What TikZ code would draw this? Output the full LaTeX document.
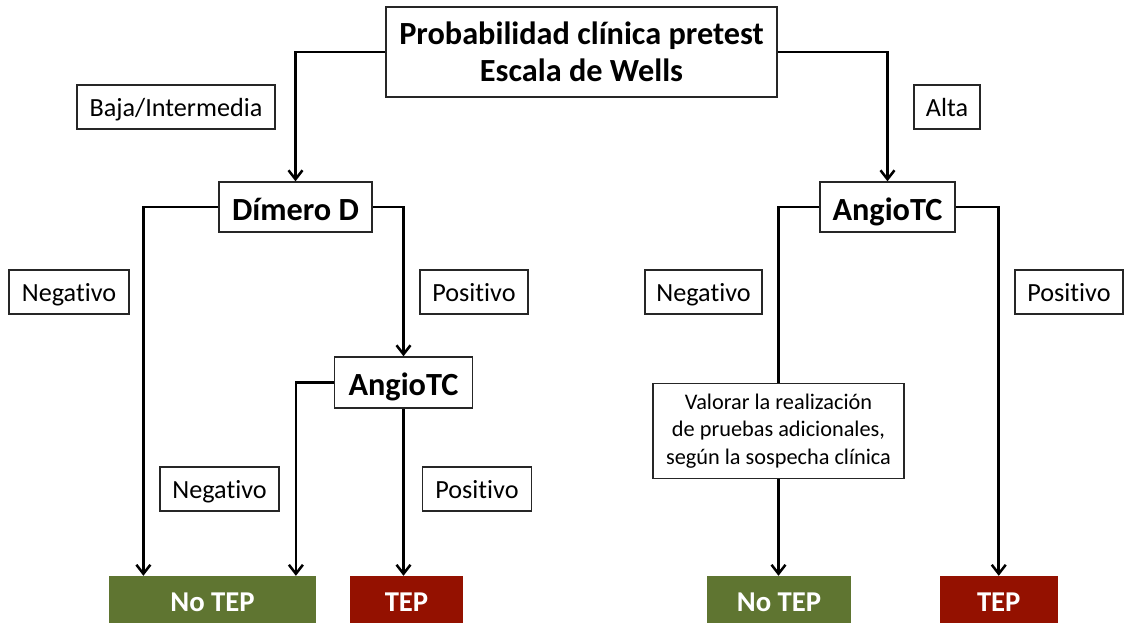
\documentclass[tikz,border=0pt]{standalone}
\usepackage{fontspec}
\setmainfont{Carlito}[Ligatures=CommonOff]
\usetikzlibrary{arrows.meta}
\definecolor{notepgreen}{HTML}{5F7531}
\definecolor{tepred}{HTML}{941100}
\begin{document}
\begin{tikzpicture}[x=1pt,y=-1pt,
  box/.style={draw=black!85, line width=1.4pt, inner sep=0pt, fill=white},
  lbl/.style={box, minimum height=44pt, text height=26pt, text depth=6.5pt, font=\fontsize{26.2}{31}\selectfont},
  boldbox/.style={box, minimum height=50pt, font=\bfseries\fontsize{32.3}{37.5}\selectfont},
  single/.style={text height=32pt, text depth=6pt},
  res/.style={inner sep=0pt, minimum height=52pt, text=white, font=\bfseries\fontsize{28.7}{33}\selectfont},
  conn/.style={line width=2.7pt, -{Straight Barb[length=9pt,width=14pt,line width=2.5pt]}},
  plain/.style={line width=2.7pt}]
\useasboundingbox (0,0) rectangle (1130,623);
% main nodes
\node[boldbox, minimum width=391pt, minimum height=90pt, align=center] (top) at (581.5,52) {Probabilidad clínica pretest\\Escala de Wells};
\node[boldbox, single, minimum width=153pt] (dimero) at (295.5,207) {Dímero D};
\node[boldbox, single, minimum width=135pt] (angioR) at (887.5,207) {AngioTC};
\node[boldbox, single, minimum width=138pt, minimum height=51pt] (angioL) at (403.5,382.5) {AngioTC};
\node[box, minimum width=251pt, minimum height=95pt, align=center, font=\fontsize{22.3}{27.5}\selectfont] (valorar) at (778.5,431) {Valorar la realización\\de pruebas adicionales,\\según la sospecha clínica};
% results
\node[res, fill=notepgreen, minimum width=207pt] (notep1) at (212.5,602) {No TEP};
\node[res, fill=tepred, minimum width=113pt] (tep1) at (406.5,602) {TEP};
\node[res, fill=notepgreen, minimum width=144pt] (notep2) at (779,602) {No TEP};
\node[res, fill=tepred, minimum width=117.5pt] (tep2) at (998.75,602) {TEP};
% labels
\node[lbl, minimum width=198pt] (baja) at (176,107) {Baja/Intermedia};
\node[lbl, minimum width=66pt] (alta) at (947,107) {Alta};
\node[lbl, minimum width=120pt] (neg1) at (69,292) {Negativo};
\node[lbl, minimum width=108pt] (pos1) at (474,292) {Positivo};
\node[lbl, minimum width=117pt] (neg2) at (703.5,292) {Negativo};
\node[lbl, minimum width=108pt] (pos2) at (1069,292) {Positivo};
\node[lbl, minimum width=119pt] (neg3) at (219.5,489) {Negativo};
\node[lbl, minimum width=108.5pt] (pos3) at (477,489) {Positivo};
% connectors
\draw[conn] (top.west) -| (dimero.north);
\draw[conn] (top.east) -| (angioR.north);
\draw[conn] (dimero.west) -| ([xshift=34.6pt]notep1.north west);
\draw[conn] (dimero.east) -| (angioL.north);
\draw[conn] (angioL.west) -| ([xshift=-20.3pt]notep1.north east);
\draw[conn] (angioL.south) -- (angioL.south |- tep1.north);
\draw[plain] (angioR.west) -| (valorar.north);
\draw[conn] (valorar.south) -- (valorar.south |- notep2.north);
\draw[conn] (angioR.east) -| (tep2.north);
\end{tikzpicture}
\end{document}
